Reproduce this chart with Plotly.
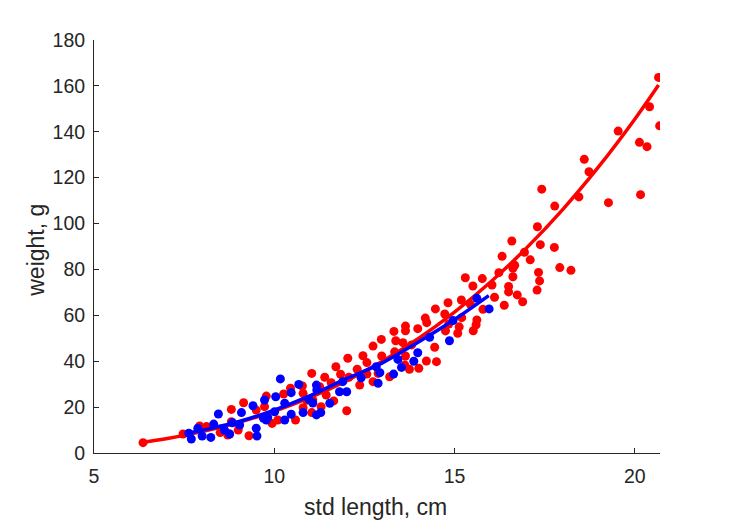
import plotly.graph_objects as go

# ---- data ----
red_len = [6.36, 7.47, 7.93, 8.12, 8.5, 8.71, 8.76, 8.81, 8.81, 9.0, 9.15, 9.3, 9.5, 9.73, 9.78, 9.94,
           10.1, 10.26, 10.45, 10.59, 10.78, 10.8, 10.8, 10.9, 11.04, 11.04, 11.07, 11.26, 11.3, 11.4,
           11.44, 11.58, 11.65, 11.71, 11.84, 12.01, 12.04, 12.07, 12.3, 12.37, 12.46, 12.57, 12.57,
           12.74, 12.74, 12.88, 12.97, 12.98, 13.2, 13.32, 13.34, 13.37, 13.57, 13.62, 13.64, 13.64,
           13.64, 13.75, 13.81, 13.98, 14.01, 14.19, 14.23, 14.22, 14.45, 14.47, 14.5, 14.73, 14.75,
           14.82, 14.84, 15.09, 15.13, 15.19, 15.2, 15.3, 15.44, 15.51, 15.52, 15.6, 15.62, 15.77,
           15.79, 16.04, 16.11, 16.23, 16.32, 16.38, 16.5, 16.5, 16.59, 16.62, 16.62, 16.67, 16.74,
           16.89, 16.94, 17.1, 17.29, 17.3, 17.33, 17.36, 17.38, 17.42, 17.77, 17.78, 17.92, 18.23,
           18.45, 18.6, 18.73, 19.27, 19.54, 20.13, 20.16, 20.34, 20.41, 20.66, 20.69]
red_wt = [4.5, 8.3, 11.8, 11.5, 8.9, 7.8, 8.3, 13.6, 19.0, 10.0, 21.9, 7.5, 18.7, 20.2, 24.8, 12.9,
          14.4, 25.7, 28.2, 14.4, 29.2, 26.0, 19.7, 23.0, 17.6, 34.7, 23.1, 28.9, 20.2, 33.0,
          25.3, 30.6, 22.7, 37.6, 34.3, 18.4, 41.3, 33.0, 36.5, 29.6, 42.4, 39.4, 34.4,
          46.6, 31.1, 34.7, 49.5, 42.3, 33.2, 53.0, 44.1, 48.9, 48.1, 38.4, 55.3, 53.3,
          42.3, 36.5, 47.1, 54.2, 36.9, 58.8, 56.8, 40.1, 46.1, 62.8, 39.8, 60.6, 53.2,
          65.5, 56.2, 52.2, 55.0, 66.7, 59.0, 76.4, 64.8, 72.8, 53.3, 55.9, 58.0, 76.0,
          62.6, 73.2, 67.9, 78.6, 85.7, 64.4, 72.6, 70.2, 92.4, 80.5, 76.8, 81.8, 68.9,
          65.9, 87.5, 84.2, 71.0, 98.6, 78.7, 75.0, 90.8, 115.0, 89.6, 107.6, 80.8, 79.6,
          111.6, 128.0, 122.6, 109.1, 140.3, 135.4, 112.6, 133.5, 150.9, 163.7, 142.6]

blue_len = [7.63, 7.7, 7.88, 8.0, 8.24, 8.32, 8.45, 8.62, 8.76, 8.84, 9.04, 9.09, 9.41, 9.5, 9.52,
            9.7, 9.73, 9.78, 9.82, 10.01, 10.04, 10.17, 10.29, 10.29, 10.47, 10.47, 10.68, 10.8,
            10.96, 11.07, 11.17, 11.18, 11.17, 11.29, 11.54, 11.81, 11.9, 12.01, 12.41, 12.83,
            12.88, 12.93, 13.31, 13.43, 13.53, 13.87, 13.98, 14.31, 14.86, 14.96, 15.62, 15.96]
blue_wt = [8.6, 6.1, 10.8, 7.4, 6.8, 12.6, 17.0, 10.0, 8.3, 13.2, 12.2, 17.6, 20.6, 10.8, 7.4,
           15.1, 23.1, 14.4, 15.5, 18.0, 24.5, 32.3, 21.7, 14.4, 26.3, 16.9, 29.9, 17.6,
           23.4, 21.8, 29.6, 27.5, 16.6, 17.6, 21.7, 26.7, 31.1, 26.7, 32.8, 37.6,
           30.4, 35.0, 34.4, 40.8, 37.3, 40.0, 43.7, 50.4, 48.9, 57.7, 67.4, 62.8]

# fitted curves
red_fit_len = [6.36, 7, 8, 9, 10, 11, 12, 13, 14, 15, 16, 17, 18, 19, 20, 20.66]
red_fit_wt = [4.7, 6.2, 9.3, 13.3, 18.2, 24.2, 31.4, 40.0, 49.9, 61.4, 74.5, 89.4, 106.1, 124.8, 145.5, 160.4]
blue_fit_len = [7.7, 8, 9, 10, 11, 12, 13, 14, 15, 15.95]
blue_fit_wt = [8.9, 9.9, 13.6, 18.7, 25.0, 32.4, 39.3, 48.4, 58.2, 68.6]

x_ticks = [5, 10, 15, 20]
y_ticks = [0, 20, 40, 60, 80, 100, 120, 140, 160, 180]
x_title = "std length, cm"
y_title = "weight, g"

RED = "#ff0000"
BLUE = "#0000ff"
INK = "#262626"
FONT = "Liberation Sans, Arial, sans-serif"

fig = go.Figure()
fig.add_trace(go.Scatter(x=red_len, y=red_wt, mode="markers",
                         marker=dict(color=RED, size=9, line=dict(width=0)), showlegend=False))
fig.add_trace(go.Scatter(x=red_fit_len, y=red_fit_wt, mode="lines", line_shape="spline",
                         line=dict(color=RED, width=3.5), showlegend=False))
fig.add_trace(go.Scatter(x=blue_len, y=blue_wt, mode="markers",
                         marker=dict(color=BLUE, size=9, line=dict(width=0)), showlegend=False))
fig.add_trace(go.Scatter(x=blue_fit_len, y=blue_fit_wt, mode="lines", line_shape="spline",
                         line=dict(color=BLUE, width=3.5), showlegend=False))

axis_common = dict(showgrid=False, zeroline=False, showline=True, linecolor=INK, linewidth=1,
                   ticks="inside", ticklen=5, tickcolor=INK, tickwidth=1, automargin=False,
                   tickfont=dict(family=FONT, size=19.5, color=INK), mirror=False)

fig.update_layout(
    width=729, height=521,
    margin=dict(l=94, r=69, t=40, b=68),
    paper_bgcolor="white", plot_bgcolor="white",
    xaxis=dict(range=[5, 20.7], tickvals=x_ticks, ticktext=[str(v) for v in x_ticks],
               ticklabelstandoff=6, **axis_common),
    yaxis=dict(range=[0, 180], tickvals=y_ticks, ticktext=[str(v) for v in y_ticks],
               ticklabelstandoff=4, **axis_common),
    annotations=[
        dict(text=x_title, xref="paper", yref="paper", x=0.498, y=-0.1308,
             xanchor="center", yanchor="middle", showarrow=False,
             font=dict(family=FONT, size=23, color=INK)),
        dict(text=y_title, xref="paper", yref="paper", x=-0.104, y=0.49,
             xanchor="center", yanchor="middle", showarrow=False, textangle=-90,
             font=dict(family=FONT, size=23, color=INK)),
    ],
)

fig.write_html("out.html")
